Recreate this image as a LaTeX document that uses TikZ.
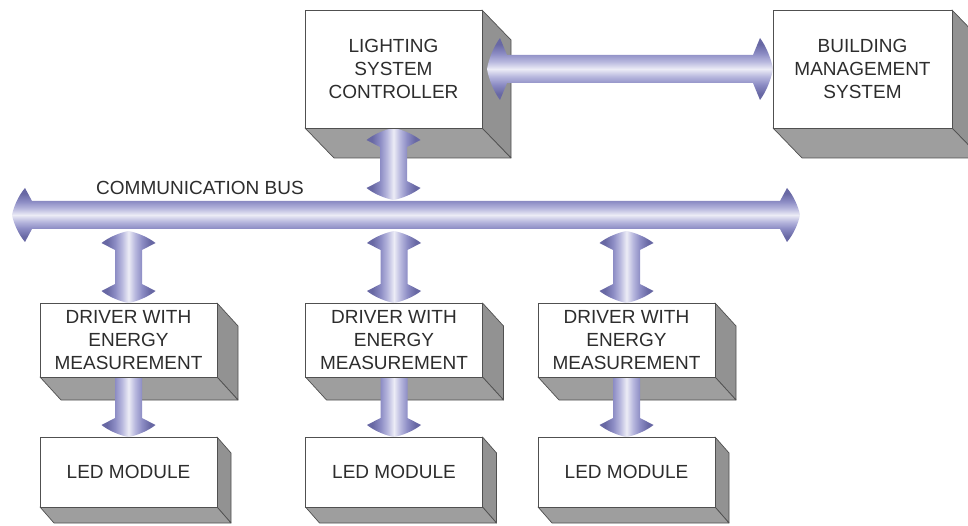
\documentclass[tikz,border=0pt]{standalone}
\usepackage{fontspec}
\setmainfont{Liberation Sans}
\usetikzlibrary{calc}
\definecolor{adk}{RGB}{104,104,164}
\definecolor{amd}{RGB}{140,140,196}
\definecolor{amd2}{RGB}{184,184,222}
\definecolor{alt}{RGB}{236,236,246}
\definecolor{sidegray}{RGB}{146,146,146}
\definecolor{botgray}{RGB}{158,158,158}
\definecolor{edgegray}{RGB}{80,80,80}
\definecolor{txt}{RGB}{45,45,45}
\pgfdeclarelayer{bg}\pgfdeclarelayer{mid}\pgfsetlayers{bg,mid,main}
\pgfdeclarehorizontalshading{fatH}{100bp}{color(0bp)=(adk); color(30bp)=(adk); color(37.5bp)=(amd); color(44bp)=(amd2); color(50bp)=(alt); color(56bp)=(amd2); color(62.5bp)=(amd); color(70bp)=(adk); color(100bp)=(adk)}
\pgfdeclareverticalshading{fatV}{100bp}{color(0bp)=(adk); color(30bp)=(adk); color(37.5bp)=(amd); color(44bp)=(amd2); color(50bp)=(alt); color(56bp)=(amd2); color(62.5bp)=(amd); color(70bp)=(adk); color(100bp)=(adk)}
% \ah head half width, \as shaft half width, \al head length, \ab extra sweep of barb back edge
\newcommand\setfat[3]{\def\ah{#1pt}\def\as{#2pt}\def\al{#3pt}\def\ab{7pt}}
% vertical double arrow: #1 top tip, #2 bottom tip
\newcommand\vdouble[2]{%
 \path[shading=fatH] let \p1=(#1), \p2=(#2) in
  (\x1,\y1) .. controls ({\x1+0.3*\ah},{\y1-0.12*\al}) and ({\x1+0.72*\ah},{\y1-0.5*\al}) .. ({\x1+\ah},{\y1-\al})
  -- ({\x1+\as},{\y1-\al-\ab}) -- ({\x1+\as},{\y2+\al+\ab}) -- ({\x1+\ah},{\y2+\al})
  .. controls ({\x1+0.72*\ah},{\y2+0.5*\al}) and ({\x1+0.3*\ah},{\y2+0.12*\al}) .. (\x1,\y2)
  .. controls ({\x1-0.3*\ah},{\y2+0.12*\al}) and ({\x1-0.72*\ah},{\y2+0.5*\al}) .. ({\x1-\ah},{\y2+\al})
  -- ({\x1-\as},{\y2+\al+\ab}) -- ({\x1-\as},{\y1-\al-\ab}) -- ({\x1-\ah},{\y1-\al})
  .. controls ({\x1-0.72*\ah},{\y1-0.5*\al}) and ({\x1-0.3*\ah},{\y1-0.12*\al}) .. cycle;}
% vertical single arrow (down): #1 flat top, #2 bottom tip
\newcommand\vsingle[2]{%
 \path[shading=fatH] let \p1=(#1), \p2=(#2) in
  ({\x1-\as},\y1) -- ({\x1+\as},\y1) -- ({\x1+\as},{\y2+\al+\ab}) -- ({\x1+\ah},{\y2+\al})
  .. controls ({\x1+0.72*\ah},{\y2+0.5*\al}) and ({\x1+0.3*\ah},{\y2+0.12*\al}) .. (\x1,\y2)
  .. controls ({\x1-0.3*\ah},{\y2+0.12*\al}) and ({\x1-0.72*\ah},{\y2+0.5*\al}) .. ({\x1-\ah},{\y2+\al})
  -- ({\x1-\as},{\y2+\al+\ab}) -- cycle;}
% horizontal double arrow: #1 left tip, #2 right tip
\newcommand\hdouble[2]{%
 \path[shading=fatV] let \p1=(#1), \p2=(#2) in
  (\x1,\y1) .. controls ({\x1+0.12*\al},{\y1+0.3*\ah}) and ({\x1+0.5*\al},{\y1+0.72*\ah}) .. ({\x1+\al},{\y1+\ah})
  -- ({\x1+\al+\ab},{\y1+\as}) -- ({\x2-\al-\ab},{\y1+\as}) -- ({\x2-\al},{\y1+\ah})
  .. controls ({\x2-0.5*\al},{\y1+0.72*\ah}) and ({\x2-0.12*\al},{\y1+0.3*\ah}) .. (\x2,\y1)
  .. controls ({\x2-0.12*\al},{\y1-0.3*\ah}) and ({\x2-0.5*\al},{\y1-0.72*\ah}) .. ({\x2-\al},{\y1-\ah})
  -- ({\x2-\al-\ab},{\y1-\as}) -- ({\x1+\al+\ab},{\y1-\as}) -- ({\x1+\al},{\y1-\ah})
  .. controls ({\x1+0.5*\al},{\y1-0.72*\ah}) and ({\x1+0.12*\al},{\y1-0.3*\ah}) .. cycle;}
% 3D extrusion of a box node: #1 node, #2 dx, #3 dy (down)
\newcommand\extrude[3]{%
 \filldraw[fill=sidegray, draw=edgegray, line width=0.7pt, line join=round]
   (#1.north east) -- ++(#2,-#3) -- ([shift={(#2,-#3)}]#1.south east) -- (#1.south east) -- cycle;
 \filldraw[fill=botgray, draw=edgegray, line width=0.7pt, line join=round]
   (#1.south west) -- (#1.south east) -- ([shift={(#2,-#3)}]#1.south east) -- ([shift={(#2,-#3)}]#1.south west) -- cycle;}
\tikzset{
  box/.style={draw=edgegray, line width=0.8pt, fill=white, inner sep=0pt, outer sep=0pt,
    align=center, text=txt, font=\fontsize{19}{23}\selectfont},
  bigbox/.style={box, minimum width=177pt, minimum height=118pt},
  drvbox/.style={box, minimum width=177pt, minimum height=74pt},
  ledbox/.style={box, minimum width=177pt, minimum height=70pt},
  lbl/.style={text=txt, font=\fontsize{19}{23}\selectfont, inner sep=0pt}
}
\begin{document}
\begin{tikzpicture}[x=1pt, y=1pt]
\useasboundingbox (0,0) rectangle (968,525);
% front faces
\node[bigbox] (lsc) at (393.5,456) {LIGHTING\\SYSTEM\\CONTROLLER};
\node[bigbox, minimum width=179pt] (bms) at (862.5,456) {BUILDING\\MANAGEMENT\\SYSTEM};
\node[drvbox] (drv1) at (128.5,185) {DRIVER WITH\\ENERGY\\MEASUREMENT};
\node[drvbox] (drv2) at (394,185) {DRIVER WITH\\ENERGY\\MEASUREMENT};
\node[drvbox] (drv3) at (626.5,185) {DRIVER WITH\\ENERGY\\MEASUREMENT};
\node[ledbox] (led1) at (128.5,53) {LED MODULE};
\node[ledbox] (led2) at (394,53) {LED MODULE};
\node[ledbox] (led3) at (626.5,53) {LED MODULE};
\coordinate (busL) at (12,310);
\coordinate (busR) at (800,310);
\node[lbl] (buslbl) at (200,337) {COMMUNICATION BUS};
% extrusions
\begin{pgfonlayer}{bg}
\extrude{lsc}{29}{30}
\extrude{bms}{29}{30}
\extrude{drv1}{21}{23}
\extrude{drv2}{21}{23}
\extrude{drv3}{21}{23}
\extrude{led1}{14}{16}
\extrude{led2}{14}{16}
\extrude{led3}{14}{16}
\end{pgfonlayer}
% block arrows
\begin{pgfonlayer}{mid}
\setfat{27}{14}{13}
\hdouble{busL}{busR}
\setfat{31}{14}{13}
\hdouble{$(lsc.east)+(5,0)$}{bms.west}
\setfat{27}{13.5}{12}
\vdouble{lsc.south}{$(lsc.south |- busL)+(0,15)$}
\vdouble{$(drv1.north |- busL)+(0,-16)$}{drv1.north}
\vdouble{$(drv2.north |- busL)+(0,-16)$}{drv2.north}
\vdouble{$(drv3.north |- busL)+(0,-16)$}{drv3.north}
\vsingle{drv1.south}{led1.north}
\vsingle{drv2.south}{led2.north}
\vsingle{drv3.south}{led3.north}
\end{pgfonlayer}
\end{tikzpicture}
\end{document}
